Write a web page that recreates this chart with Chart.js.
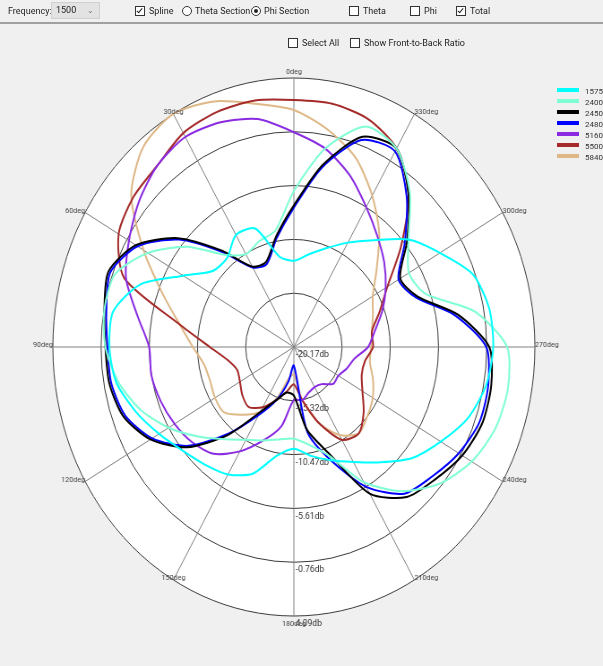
<!DOCTYPE html>
<html>
<head>
<meta charset="utf-8">
<script src="https://cdn.jsdelivr.net/npm/chart.js@4.4.1/dist/chart.umd.min.js"></script>
<style>
  body { margin: 0; width: 603px; height: 666px; background: #f0f0f0; overflow: hidden; font-family: Roboto, "Noto Sans", sans-serif; font-size: 9px; color: #222; }
  #bar { position: absolute; left: 0; top: 0; width: 603px; height: 22px; border-bottom: 2px solid #a0a0a0; z-index: 2; }
  .it { position: absolute; top: 6px; white-space: nowrap; line-height: 11px; }
  .box { display: inline-block; width: 8px; height: 8px; border: 1px solid #333; background: #fff; vertical-align: -2px; margin-right: 4px; position: relative; }
  .box.on::after { content: ''; position: absolute; left: 2px; top: 0px; width: 2px; height: 5px; border: solid #222; border-width: 0 1px 1px 0; transform: rotate(40deg); }
  .rad { display: inline-block; width: 8px; height: 8px; border: 1px solid #333; border-radius: 50%; background: #fff; vertical-align: -2px; margin-right: 3px; position: relative; }
  .rad.on::after { content: ''; position: absolute; left: 2px; top: 2px; width: 4px; height: 4px; border-radius: 50%; background: #222; }
  #freq { position: absolute; left: 51px; top: 2px; width: 49px; height: 17px; background: #e3e3e3; border: 1px solid #d0d0d0; box-sizing: border-box; }
  #freq span { position: absolute; left: 4px; top: 2px; }
  #freq i { position: absolute; right: 5px; top: 3px; font-style: normal; color: #777; font-size: 8px; }
  #wrap { position: absolute; left: 0; top: 0; width: 673px; height: 666px; transform: scaleX(0.8959); transform-origin: 0 0; z-index: 1; }
  #legend { position: absolute; left: 557px; top: 86px; z-index: 3; font-size: 8px; color: #333; }
  #legend div { height: 11px; line-height: 11px; white-space: nowrap; }
  #legend b { display: inline-block; width: 22px; height: 4px; vertical-align: 2px; margin-right: 6px; }
</style>
</head>
<body>
<div id="bar">
  <div class="it" style="left:8px">Frequency:</div>
  <div id="freq"><span>1500</span><i>&#8964;</i></div>
  <div class="it" style="left:135px"><span class="box on"></span>Spline</div>
  <div class="it" style="left:182px"><span class="rad"></span>Theta Section</div>
  <div class="it" style="left:251px"><span class="rad on"></span>Phi Section</div>
  <div class="it" style="left:349px"><span class="box"></span>Theta</div>
  <div class="it" style="left:410px"><span class="box"></span>Phi</div>
  <div class="it" style="left:456px"><span class="box on"></span>Total</div>
</div>
<div class="it" style="left:288px;top:38px;z-index:2"><span class="box"></span>Select All</div>
<div class="it" style="left:350px;top:38px;z-index:2"><span class="box"></span>Show Front-to-Back Ratio</div>
<div id="wrap"><canvas id="polar" width="673" height="666"></canvas></div>
<div id="legend"></div>
<script>
// angles in degrees, counter-clockwise from the top, 10 deg apart
var angles = [0, 10, 20, 30, 40, 50, 60, 70, 80, 90, 100, 110, 120, 130, 140, 150, 160, 170,
              180, 190, 200, 210, 220, 230, 240, 250, 260, 270, 280, 290, 300, 310, 320, 330, 340, 350];

// gain in dB at each angle above
var f1575 = [-12.4, -11.9, -8.8, -8.5, -9.7, -9.5, -7.3, -3.7, -1.7, -1.6, -2.0, -3.2, -4.5, -5.6, -6.3, -6.9, -8.0, -10.2,
             -11.0, -10.2, -9.3, -8.2, -6.6, -4.6, -3.1, -1.5, -0.5, -0.1, -0.2, -1.0, -3.2, -5.1, -7.6, -9.3, -10.7, -11.7];
var f2400 = [-6.1, -9.5, -10.0, -10.5, -9.3, -6.1, -3.2, -1.0, -0.8, -1.2, -2.2, -3.7, -5.6, -7.6, -9.3, -10.5, -11.2, -11.7,
             -11.9, -11.2, -9.7, -6.1, -3.2, -1.0, 0.5, 1.4, 1.7, 1.3, -1.7, -6.1, -6.8, -5.1, -2.0, 0.5, 1.0, -2.0];
var f2450 = [-7.4, -10.0, -12.0, -11.8, -8.8, -4.9, -1.8, -0.3, -0.8, -1.2, -1.3, -1.9, -3.5, -6.1, -9.8, -13.4, -15.1, -16.0,
             -15.8, -12.6, -10.0, -4.9, -2.5, -1.6, -0.6, 0.0, 0.0, -0.5, -3.4, -6.9, -7.8, -5.3, -2.2, 0.5, 0.0, -3.5];
var f2480 = [-7.6, -10.2, -12.2, -11.9, -9.0, -5.1, -2.0, -0.5, -1.0, -1.4, -1.5, -2.1, -3.7, -6.3, -10.0, -13.1, -15.1, -17.0,
             -18.5, -12.4, -9.3, -5.6, -2.9, -2.0, -1.0, -0.3, -0.3, -0.8, -3.7, -7.1, -8.0, -5.6, -2.5, 0.2, -0.3, -3.7];
var f5160 = [-0.8, 0.7, 1.4, 1.7, 1.2, 0.2, -1.0, -2.2, -4.2, -5.6, -5.6, -5.9, -6.3, -6.8, -7.6, -9.3, -11.2, -12.9,
             -15.4, -15.3, -15.8, -16.0, -15.8, -15.0, -15.0, -14.5, -14.0, -12.7, -11.9, -10.7, -9.5, -8.3, -7.1, -5.6, -3.7, -2.0];
var f5500 = [2.1, 2.4, 2.4, 2.1, 1.2, 0.9, 0.2, -2.0, -8.5, -11.7, -13.4, -14.1, -13.9, -13.4, -13.1, -13.9, -15.1, -16.1,
             -16.8, -15.3, -12.9, -10.5, -10.0, -11.0, -12.2, -12.9, -12.9, -12.2, -12.2, -11.0, -9.3, -6.1, -2.2, 0.5, 1.7, 2.1];
var f5840 = [1.2, 2.1, 3.4, 4.1, 3.4, 1.2, -2.7, -6.1, -8.5, -10.0, -11.0, -11.2, -11.0, -11.0, -12.2, -13.4, -15.3, -17.3,
             -17.7, -15.3, -12.9, -11.0, -10.0, -10.5, -11.0, -11.7, -12.4, -12.4, -12.2, -11.7, -11.0, -9.3, -6.8, -4.4, -2.0, -0.3];

var seriesNames = ['1575', '2400', '2450', '2480', '5160', '5500', '5840'];
var seriesData = [f1575, f2400, f2450, f2480, f5160, f5500, f5840];
var seriesColors = ['#00ffff', '#7fffd4', '#000000', '#0000ff', '#8a2be2', '#a52a2a', '#deb887'];

// radial ticks (dB)
var tickValues = [-20.17, -15.32, -10.47, -5.61, -0.76, 4.09];
var tickLabels = ['-20.17db', '-15.32db', '-10.47db', '-5.61db', '-0.76db', '4.09db'];

// radar goes clockwise, the plot goes counter-clockwise, so walk the angles backwards
var order = angles.map(function (a, i) { return (angles.length - i) % angles.length; });
var labels = order.map(function (k) { return angles[k] + 'deg'; });

var datasets = seriesNames.map(function (name, s) {
    return {
        label: name,
        data: order.map(function (k) { return seriesData[s][k]; }),
        borderColor: seriesColors[s],
        backgroundColor: 'transparent',
        borderWidth: 2,
        pointRadius: 0,
        fill: false,
        tension: 0.25
    };
});

var labelPlugin = {
    id: 'degLabels',
    beforeDatasetsDraw: function (chart) {
        var scale = chart.scales.r;
        var ctx = chart.ctx;
        ctx.save();
        ctx.font = '9.5px Roboto';
        ctx.fillStyle = '#333';
        ctx.textBaseline = 'top';
        ctx.textAlign = 'left';
        tickValues.forEach(function (v, i) {
            var d = scale.getDistanceFromCenterForValue(v);
            ctx.fillText(tickLabels[i], scale.xCenter + 2, scale.yCenter + d + 3);
        });
        ctx.restore();
    },
    afterDraw: function (chart) {
        var scale = chart.scales.r;
        var ctx = chart.ctx;
        ctx.save();
        ctx.font = '8px Roboto';
        ctx.fillStyle = '#444';
        ctx.textBaseline = 'middle';
        chart.data.labels.forEach(function (lab, i) {
            var deg = parseInt(lab, 10);
            if (deg % 30 !== 0) return;
            var p = scale.getPointPosition(i, scale.drawingArea);
            var s = Math.sin(deg * Math.PI / 180);
            var c = Math.cos(deg * Math.PI / 180);
            var w = ctx.measureText(lab).width;
            var x = p.x;
            if (s > 0.6) x = p.x - w;
            else if (s > 0.1) x = p.x - w / 2;
            else if (s < -0.1) x = p.x;
            else x = p.x - w / 2;
            var y = p.y - 2;
            if (c > 0.99) y = p.y - 6;
            if (c < -0.99) y = p.y + 8;
            ctx.fillText(lab, x, y);
        });
        ctx.restore();
    }
};

var ctx = document.getElementById('polar').getContext('2d');
var myChart = new Chart(ctx, {
    type: 'radar',
    data: { labels: labels, datasets: datasets },
    options: {
        responsive: false,
        animation: false,
        layout: { padding: { left: 59, top: 78, right: 76, bottom: 50 } },
        plugins: { legend: { display: false }, tooltip: { enabled: false } },
        scales: {
            r: {
                min: -20.17,
                max: 4.09,
                startAngle: 0,
                backgroundColor: '#ffffff',
                afterBuildTicks: function (axis) {
                    axis.ticks = tickValues.map(function (v) { return { value: v }; });
                },
                ticks: { display: false },
                pointLabels: { display: false },
                grid: { circular: true, color: '#3a3a3a', lineWidth: 1 },
                angleLines: {
                    lineWidth: 1,
                    color: function (c) {
                        return (angles[order[c.index]] % 30 === 0) ? '#808080' : 'rgba(0,0,0,0)';
                    }
                }
            }
        }
    },
    plugins: [labelPlugin]
});

// legend on the right, built from the chart datasets
var legend = document.getElementById('legend');
myChart.data.datasets.forEach(function (ds) {
    var row = document.createElement('div');
    row.innerHTML = '<b style="background:' + ds.borderColor + '"></b>' + ds.label;
    legend.appendChild(row);
});
</script>
</body>
</html>
